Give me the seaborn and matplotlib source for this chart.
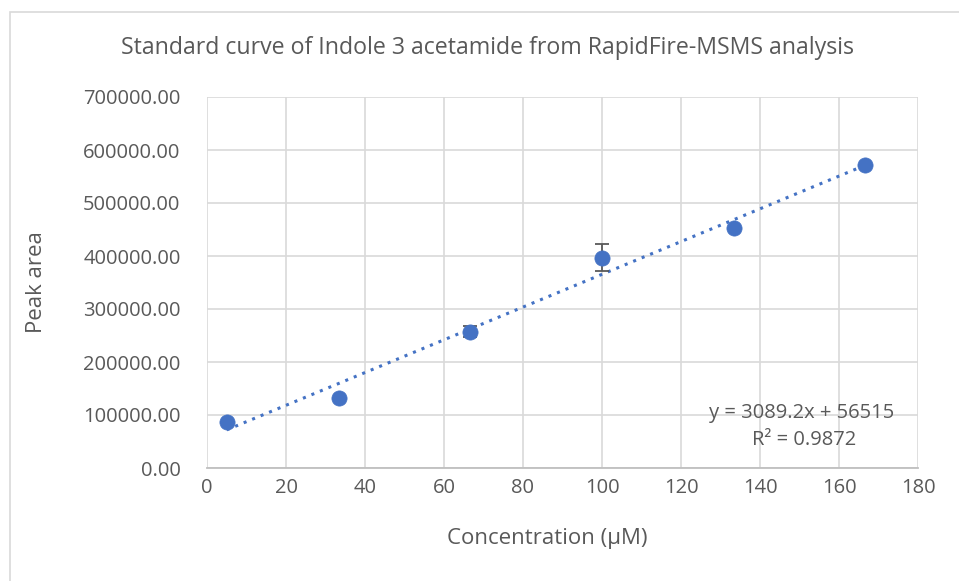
import numpy as np
import pandas as pd
import matplotlib
matplotlib.use("Agg")
import matplotlib.pyplot as plt
import seaborn as sns
from matplotlib.patches import Rectangle

# Standard curve data
concentration = [5.0, 33.33, 66.67, 100.0, 133.33, 166.67]
peak_area = [87000, 132000, 257000, 397000, 453000, 571000]
peak_area_err = [0, 0, 10000, 25000, 0, 0]

# Linear fit reported on the chart
slope = 3089.2
intercept = 56515
r_squared = 0.9872

sns.set_theme(style="white")
plt.rcParams["font.family"] = ["Open Sans", "DejaVu Sans"]

blue = "#4472C4"
grey_text = "#595959"
grid_col = "#d9d9d9"

fig = plt.figure(figsize=(9.59, 5.81), dpi=100)
ax = fig.add_axes([207 / 959, 113 / 581, 711 / 959, 371 / 581])

df = pd.DataFrame({"conc": concentration, "area": peak_area, "err": peak_area_err})

# Trendline
fit_x = np.array([concentration[0], concentration[-1]])
fit_df = pd.DataFrame({"conc": fit_x, "area": slope * fit_x + intercept})
sns.lineplot(data=fit_df, x="conc", y="area", ax=ax, color=blue,
             linestyle=(0, (1, 2)), linewidth=2.2, zorder=2)

# Error bars
ax.errorbar(df["conc"], df["area"], yerr=df["err"], fmt="none",
            ecolor=grey_text, elinewidth=1.3, capsize=5, capthick=1.3, zorder=3)

# Data points
sns.scatterplot(data=df, x="conc", y="area", ax=ax, color=blue, s=120,
                edgecolor=blue, linewidth=0.5, zorder=4)

ax.set_xlim(0, 180)
ax.set_ylim(0, 700000)
ax.set_xticks(np.arange(0, 181, 20))
ax.set_yticks(np.arange(0, 700001, 100000))
ax.set_yticklabels([f"{v:.2f}" for v in np.arange(0, 700001, 100000)])
ax.grid(True, color=grid_col, linewidth=1.2)
ax.set_axisbelow(True)
for side in ["left", "right", "top"]:
    ax.spines[side].set_visible(False)
ax.spines["bottom"].set_color("#bfbfbf")
ax.spines["bottom"].set_linewidth(1.3)
ax.tick_params(axis="both", colors=grey_text, labelsize=14.5, length=0)
ax.tick_params(axis="x", pad=7)
ax.tick_params(axis="y", pad=19)

ax.set_xlabel("Concentration (µM)", fontsize=16, color=grey_text)
ax.set_ylabel("Peak area", fontsize=16, color=grey_text)
ax.xaxis.set_label_coords((547 - 207) / 711, -(528 - 468) / 371)
ax.yaxis.set_label_coords((47 - 207) / 711, 0.5)

fig.text(487 / 959, 1 - 48 / 581,
         "Standard curve of Indole 3 acetamide from RapidFire-MSMS analysis",
         ha="center", va="center", fontsize=16.7, color=grey_text)

ax.text(802 / 959, 1 - 413 / 581, f"y = {slope}x + {intercept}",
        transform=fig.transFigure, ha="center", va="center",
        fontsize=14.5, color=grey_text)
ax.text(804 / 959, 1 - 440 / 581, f"R² = {r_squared}",
        transform=fig.transFigure, ha="center", va="center",
        fontsize=14.5, color=grey_text)

# Chart area border
fig.patches.append(Rectangle((10 / 959, -0.01), 1.0, 1 - 12 / 581 + 0.01,
                             transform=fig.transFigure, fill=False,
                             edgecolor="#d9d9d9", linewidth=1.2))

fig.savefig("out.png", dpi=100)
